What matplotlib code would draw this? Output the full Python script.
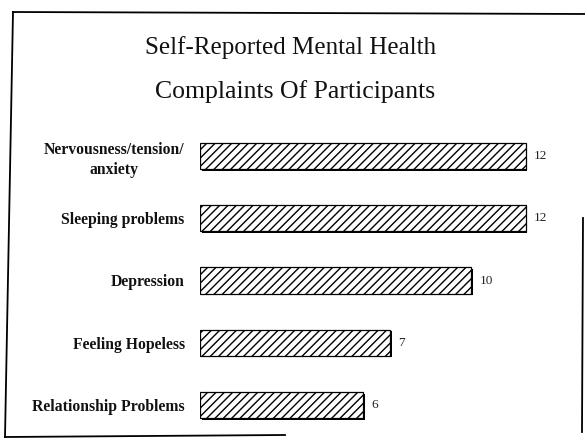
import matplotlib
matplotlib.use("Agg")
import matplotlib.pyplot as plt
import matplotlib.patheffects as pe
from matplotlib.lines import Line2D

# data
categories = ["Nervousness/tension/\nanxiety", "Sleeping problems", "Depression",
              "Feeling Hopeless", "Relationship Problems"]
counts = [12, 12, 10, 7, 6]

plt.rcParams['font.family'] = ['Liberation Serif', 'DejaVu Serif']

fig = plt.figure(figsize=(5.85, 4.42), dpi=100)
W, H = 585, 442

# scanned slide frame (slightly skewed)
def px(x, y):
    return x / W, 1 - y / H

for (x0, y0), (x1, y1) in [((13, 12), (585, 14)),
                           ((13, 12), (5, 437)),
                           ((5, 437), (285, 435)),
                           ((583, 218), (582, 432))]:
    a, b = px(x0, y0)
    c, d = px(x1, y1)
    fig.add_artist(Line2D([a, c], [b, d], color='black', lw=1.3))

# title
fig.text(0.497, 1 - 48 / H, "Self-Reported Mental Health", ha='center', va='center',
         fontsize=18, color='#111')
fig.text(0.505, 1 - 92 / H, "Complaints Of Participants", ha='center', va='center',
         fontsize=18.5, color='#111')

ax = fig.add_axes([200 / W, 1 - 436 / H, 380 / W, 311 / H])
ax.set_xlim(0, 14)
ax.set_ylim(4.5, -0.5)

bars = ax.barh(range(len(counts)), counts, height=0.42, color='white',
               edgecolor='black', linewidth=0.9, hatch='////')
for b in bars:
    b.set_path_effects([pe.SimplePatchShadow(offset=(1.2, -1.2), shadow_rgbFace='black',
                                             alpha=1.0), pe.Normal()])

for i, v in enumerate(counts):
    ax.annotate(str(v), (v, i), xytext=(6, 0), textcoords='offset points',
                ha='left', va='center', fontsize=9.5, color='#222')

ax.set_yticks(range(len(categories)))
ax.set_yticklabels(categories, fontsize=11.3, fontweight='bold', color='#111')
for t in ax.get_yticklabels():
    t.set_multialignment('center')
    t.set_linespacing(1.3)
ax.tick_params(axis='y', length=0, pad=11)
ax.set_xticks([])
for s in ax.spines.values():
    s.set_visible(False)
ax.patch.set_alpha(0)

fig.savefig("out.png", dpi=100)
